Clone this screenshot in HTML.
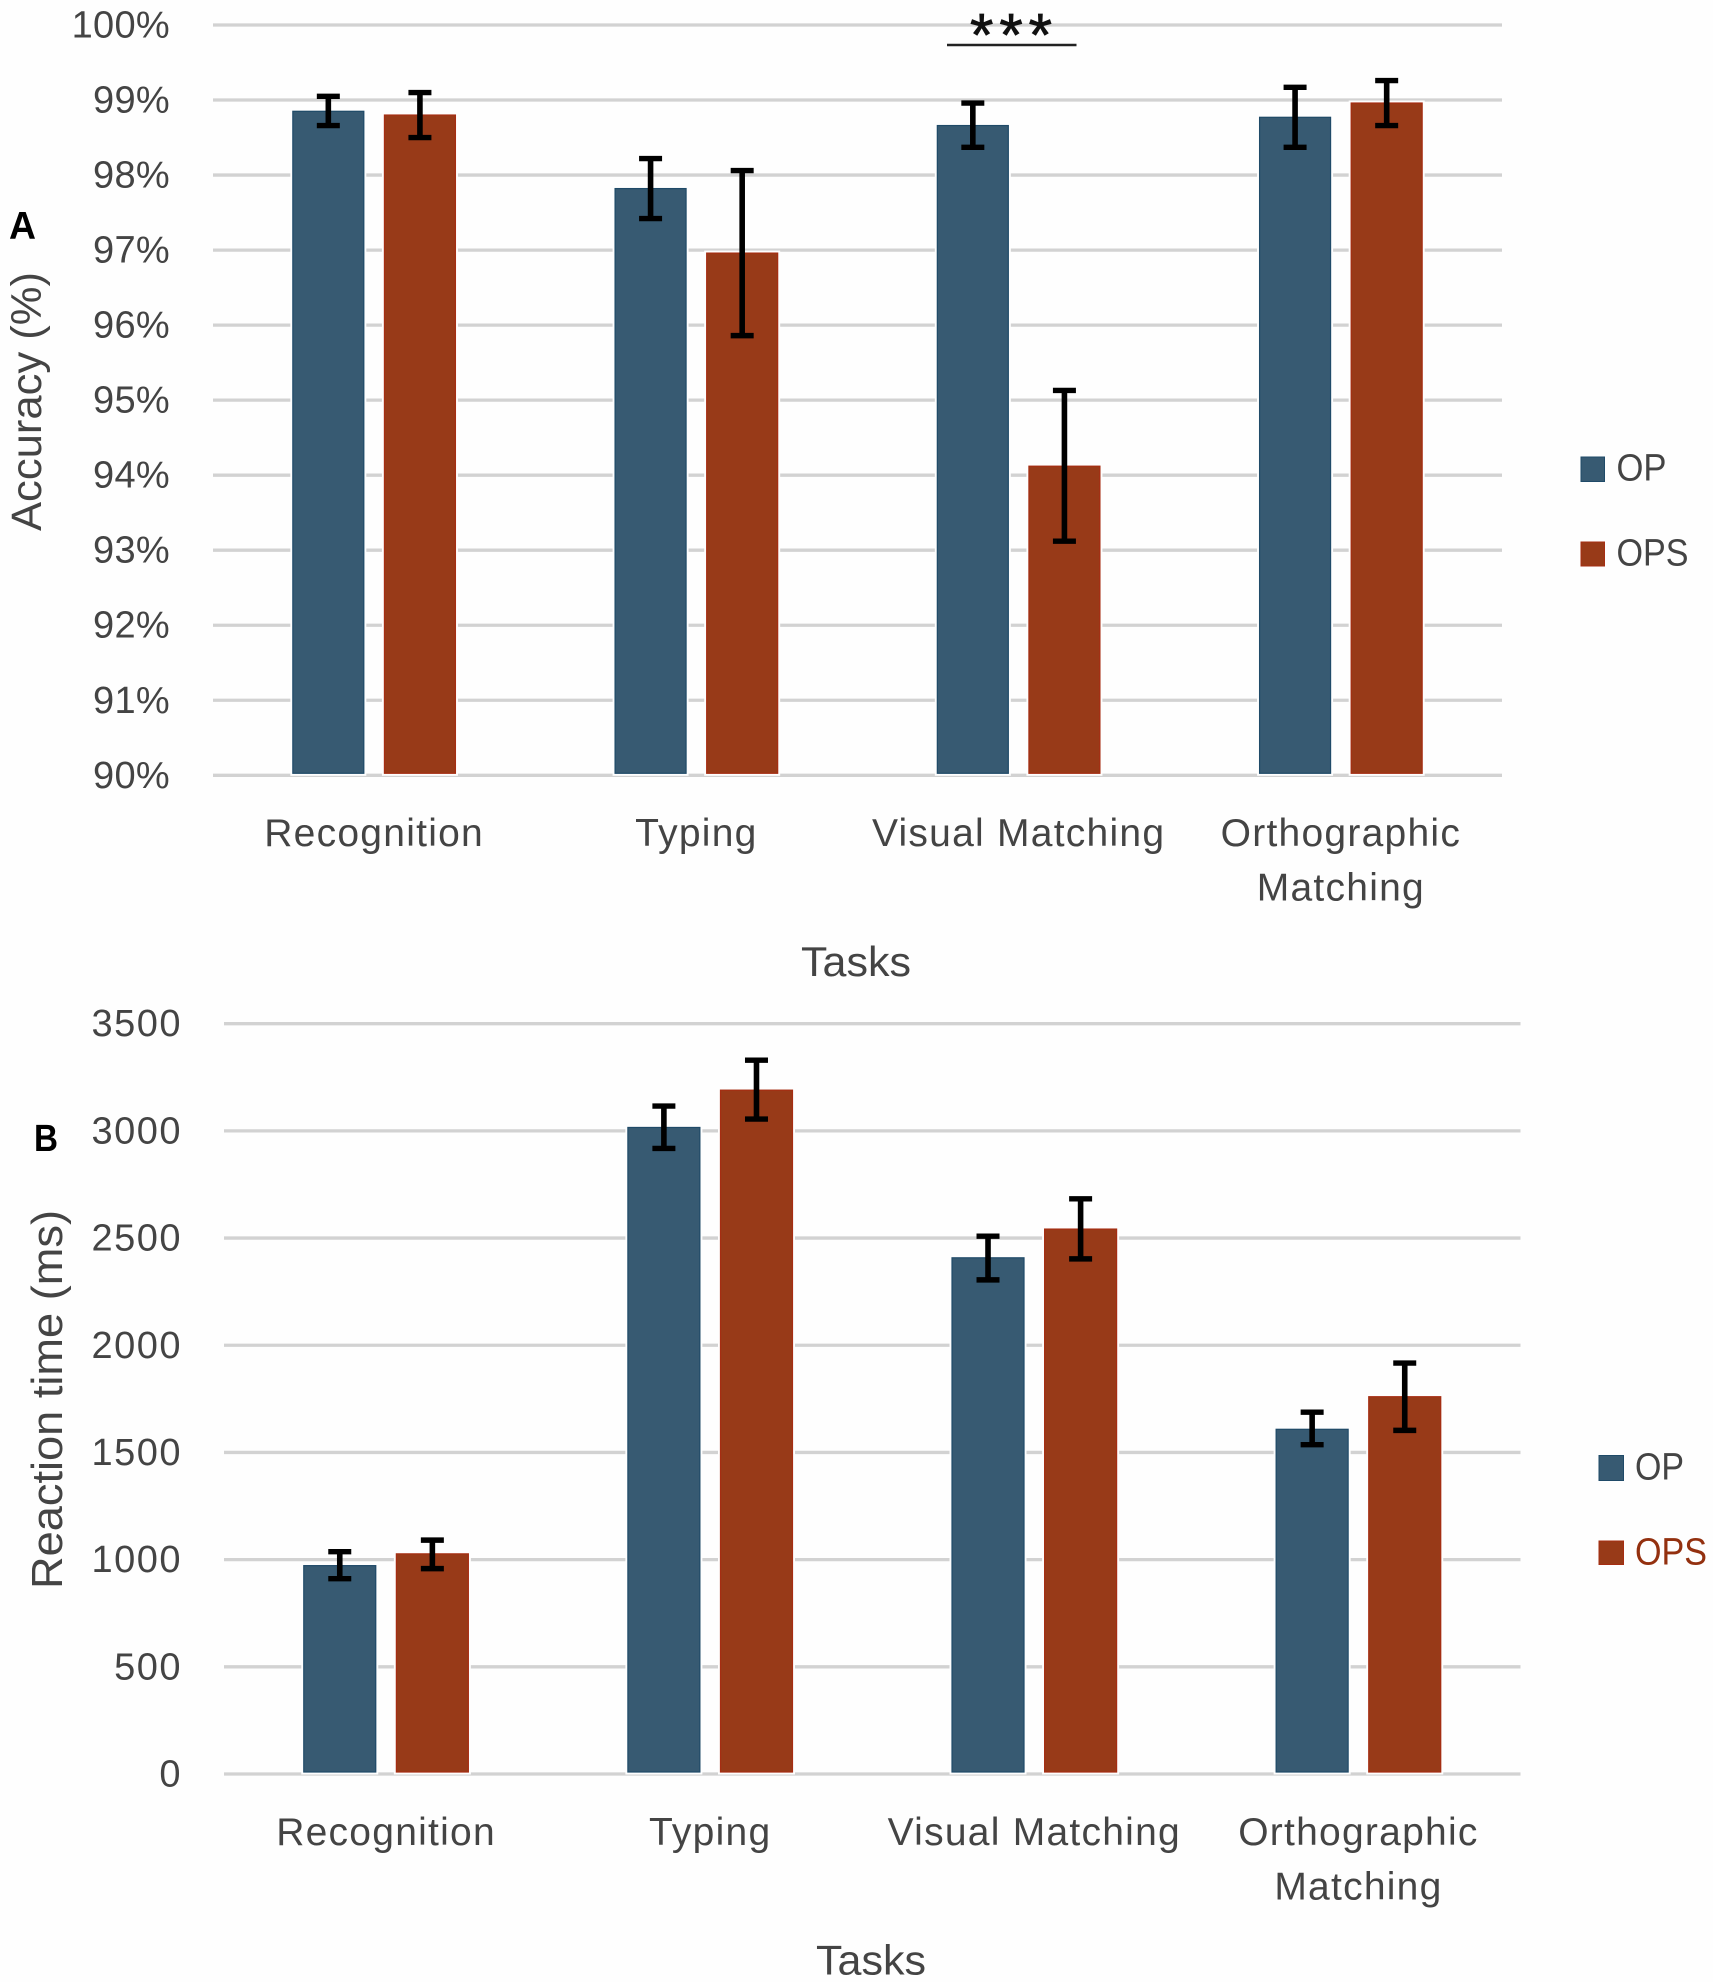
<!DOCTYPE html>
<html lang="en">
<head>
<meta charset="utf-8">
<title>Accuracy and reaction time by task</title>
<style>
  html, body { margin: 0; padding: 0; background: #fefefe; }
  svg { display: block; }
  text { font-family: "Liberation Sans", Arial, sans-serif; fill: #444; }
</style>
</head>
<body>
<svg id="figure" xmlns="http://www.w3.org/2000/svg" width="1713" height="1982" viewBox="0 0 1713 1982">
  <rect x="0" y="0" width="1713" height="1982" fill="#fefefe"/>
  <g id="panel-a"></g>
  <g id="panel-b"></g>

  <text x="9" y="239" font-size="39" font-weight="700" style="fill:#000" textLength="27" lengthAdjust="spacingAndGlyphs">A</text>
  <text x="34" y="1151" font-size="38" font-weight="700" style="fill:#000" textLength="24" lengthAdjust="spacingAndGlyphs">B</text>

  <text transform="translate(41 531) rotate(-90)" font-size="43" textLength="259" lengthAdjust="spacingAndGlyphs">Accuracy (%)</text>
  <text transform="translate(62 1589) rotate(-90)" font-size="44" textLength="379" lengthAdjust="spacingAndGlyphs">Reaction time (ms)</text>

  <text x="856" y="976" font-size="42" text-anchor="middle" textLength="110" lengthAdjust="spacingAndGlyphs">Tasks</text>
  <text x="871" y="1974.5" font-size="42" text-anchor="middle" textLength="110" lengthAdjust="spacingAndGlyphs">Tasks</text>

  <text x="970" y="55.5" font-size="60" style="fill:#111;stroke:#111;stroke-width:0.8" textLength="82" lengthAdjust="spacing">***</text>
  <line x1="947" y1="45" x2="1076.5" y2="45" stroke="#222" stroke-width="2.4"/>

  <g>
    <rect x="1581" y="457" width="23.5" height="24.5" fill="#375a72" stroke="#1f4a68" stroke-width="1"/>
    <text x="1616.5" y="480.5" font-size="38" textLength="50" lengthAdjust="spacingAndGlyphs">OP</text>
    <rect x="1581" y="542" width="23.5" height="24" fill="#983a18" stroke="#a62d12" stroke-width="1"/>
    <text x="1616.5" y="565.5" font-size="38" textLength="72" lengthAdjust="spacingAndGlyphs">OPS</text>
  </g>
  <g>
    <rect x="1599" y="1455.5" width="24.5" height="25" fill="#375a72" stroke="#1f4a68" stroke-width="1"/>
    <text x="1635" y="1479.5" font-size="38" textLength="49" lengthAdjust="spacingAndGlyphs">OP</text>
    <rect x="1599" y="1541" width="24.5" height="23.5" fill="#983a18" stroke="#a62d12" stroke-width="1"/>
    <text x="1635" y="1564.5" font-size="38" style="fill:#93300f" textLength="72" lengthAdjust="spacingAndGlyphs">OPS</text>
  </g>
</svg>

<script>
// Shared categories (each inner array is one label, split into display lines)
const categoryLines = [['Recognition'], ['Typing'], ['Visual Matching'], ['Orthographic', 'Matching']];

// Panel A: accuracy (%)
const tickValuesA = [90, 91, 92, 93, 94, 95, 96, 97, 98, 99, 100];
const tickLabelsA = ['90%', '91%', '92%', '93%', '94%', '95%', '96%', '97%', '98%', '99%', '100%'];
const opMeansA = [98.85, 97.82, 98.66, 98.77];
const opsMeansA = [98.80, 96.96, 94.12, 98.96];
const opErrHighA = [99.05, 98.22, 98.96, 99.17];
const opErrLowA = [98.66, 97.42, 98.37, 98.37];
const opsErrHighA = [99.10, 98.06, 95.13, 99.26];
const opsErrLowA = [98.50, 95.86, 93.12, 98.66];

// Panel B: reaction time (ms)
const tickValuesB = [0, 500, 1000, 1500, 2000, 2500, 3000, 3500];
const tickLabelsB = ['0', '500', '1000', '1500', '2000', '2500', '3000', '3500'];
const opMeansB = [972, 3016, 2408, 1608];
const opsMeansB = [1027, 3190, 2542, 1760];
const opErrHighB = [1037, 3116, 2509, 1688];
const opErrLowB = [911, 2918, 2305, 1536];
const opsErrHighB = [1091, 3330, 2683, 1917];
const opsErrLowB = [958, 3055, 2403, 1603];

const SVG_NS = 'http://www.w3.org/2000/svg';

function make(parent, tag, attrs, content) {
  const node = document.createElementNS(SVG_NS, tag);
  Object.keys(attrs).forEach(function (k) { node.setAttribute(k, attrs[k]); });
  if (content !== undefined) node.textContent = content;
  parent.appendChild(node);
  return node;
}

function linearScale(domainMin, domainMax, rangeMin, rangeMax) {
  return function (v) {
    return rangeMin + (v - domainMin) / (domainMax - domainMin) * (rangeMax - rangeMin);
  };
}

function drawBar(parent, x, w, top, bottom, fill, stroke, name) {
  const halo = make(parent, 'rect', { x: x - 2.5, y: top - 2.5, width: w + 5, height: bottom - top + 5, fill: '#fefefe' });
  
  
  const bar = make(parent, 'rect', { x: x, y: top, width: w, height: bottom - top, fill: fill, stroke: stroke, 'stroke-width': 1.2 });
  
  
}

function drawError(parent, cx, yHigh, yLow, name) {
  const g = make(parent, 'g', { stroke: '#000', fill: 'none' });
  
  
  make(g, 'line', { x1: cx, y1: yHigh, x2: cx, y2: yLow, 'stroke-width': 5.6 });
  make(g, 'line', { x1: cx - 11.5, y1: yHigh, x2: cx + 11.5, y2: yHigh, 'stroke-width': 5.4 });
  make(g, 'line', { x1: cx - 11.5, y1: yLow, x2: cx + 11.5, y2: yLow, 'stroke-width': 5.4 });
}

function drawPanel(root, tag, layout, tickValues, tickLabels, opMeans, opsMeans, opHigh, opLow, opsHigh, opsLow) {
  const y = linearScale(tickValues[0], tickValues[tickValues.length - 1], layout.bottom, layout.top);
  const band = (layout.right - layout.left) / categoryLines.length;
  const bandCenter = function (i) { return layout.left + band * (i + 0.5); };
  const baseY = y(tickValues[0]) - 2;

  tickValues.forEach(function (t, i) {
    const grid = make(root, 'line', { x1: layout.left, x2: layout.right, y1: y(t), y2: y(t), stroke: '#d2d2d2', 'stroke-width': 3.3 });
    
    
    const label = make(root, 'text', { x: layout.tickX, y: y(t) + 12.5, 'font-size': 38, 'letter-spacing': layout.tickSpacing, 'text-anchor': 'end' }, tickLabels[i]);
    
    
  });

  categoryLines.forEach(function (lines, i) {
    const c = bandCenter(i);
    const opX = c - layout.offset;
    const opsX = c + layout.offset;
    drawBar(root, opX - layout.barW / 2, layout.barW, y(opMeans[i]), baseY, '#375a72', '#1f4a68', 'bar-op-' + tag + '-' + i);
    drawBar(root, opsX - layout.barW / 2, layout.barW, y(opsMeans[i]), baseY, '#983a18', '#a62d12', 'bar-ops-' + tag + '-' + i);
    drawError(root, opX, y(opHigh[i]), y(opLow[i]), 'error-bar-op-' + tag + '-' + i);
    drawError(root, opsX, y(opsHigh[i]), y(opsLow[i]), 'error-bar-ops-' + tag + '-' + i);
    lines.forEach(function (line, j) {
      const label = make(root, 'text', { x: c, y: layout.labelY + j * 54.5, 'font-size': 39, 'letter-spacing': 1.25, 'text-anchor': 'middle' }, line);
      
      
    });
  });
}

drawPanel(document.getElementById('panel-a'), 'a',
  { left: 213, right: 1502, top: 25, bottom: 775.3, barW: 71, offset: 45.8, tickX: 170, tickSpacing: 0.3, labelY: 846 },
  tickValuesA, tickLabelsA, opMeansA, opsMeansA, opErrHighA, opErrLowA, opsErrHighA, opsErrLowA);

drawPanel(document.getElementById('panel-b'), 'b',
  { left: 224, right: 1520.5, top: 1023.7, bottom: 1774, barW: 72, offset: 46.3, tickX: 182, tickSpacing: 1.5, labelY: 1845 },
  tickValuesB, tickLabelsB, opMeansB, opsMeansB, opErrHighB, opErrLowB, opsErrHighB, opsErrLowB);
</script>
</body>
</html>
